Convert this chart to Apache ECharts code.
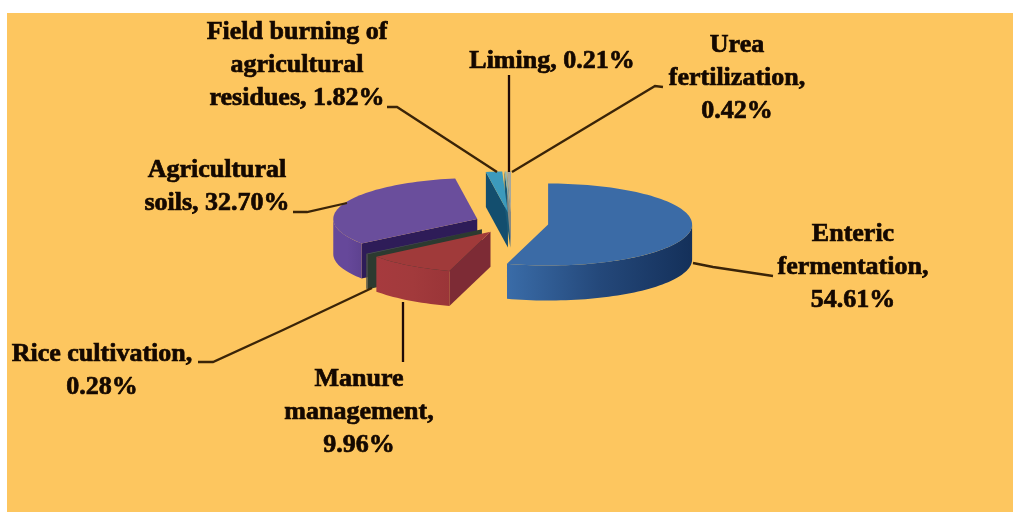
<!DOCTYPE html>
<html><head><meta charset="utf-8">
<style>html,body{margin:0;padding:0;background:#fff}#chart{width:1013px;height:512px;filter:blur(0.7px)}</style>
<script src="https://cdn.jsdelivr.net/npm/echarts@6/dist/echarts.min.js"></script>
</head><body><div id="chart"></div>
<script>
const categories = ['Enteric fermentation','Manure management','Rice cultivation','Agricultural soils','Field burning of agricultural residues','Liming','Urea fertilization'];
const values = [54.61, 9.96, 0.28, 32.70, 1.82, 0.21, 0.42];
const labelTemplates = [
  'Enteric\nfermentation,\n{v}%',
  'Manure\nmanagement,\n{v}%',
  'Rice cultivation,\n{v}%',
  'Agricultural\nsoils, {v}%',
  'Field burning of\nagricultural\nresidues, {v}%',
  'Liming, {v}%',
  'Urea\nfertilization,\n{v}%'
];
const topColors = ['#3B6BA6','#A03A3A','#4A5A48','#6A4E9C','#3C9ABC','#8FB4B0','#A8A89C'];
const frontColors = [['#3A6CA8','#24487A','#14305A'],['#A63A3E','#A23A3C','#9A3538'],['#4A4F48','#4A4F48','#4A4F48'],['#66489A','#66489A','#5E4290'],['#14506E','#14506E','#14506E'],['#8A8A80','#8A8A80','#8A8A80'],['#9A9A8E','#9A9A8E','#9A9A8E']];
const cutColors = ['#1E3F6A','#7D2B35','#2C3A30','#2E1C58','#134E6E','#1A5A78','#8A8A80'];
const labelCentres = [[853,267],[359,412],[102,371],[217,187],[297,65],[552,61],[737,78]];
const leaderPaths = [
  [[693,263],[713,267],[773,276]],
  [[403,302],[403,362]],
  [[198,362],[213,362],[283,330],[372,288]],
  [[293,212],[307,212],[347,203]],
  [[387,107],[397,107],[497,172]],
  [[509,75],[509,172]],
  [[663,87],[655,86],[512,172]]
];
const pie = {cx:511.5, cy:223, a:144, b:41, depth:35, explode:37};
const total = values.reduce((s,v)=>s+v,0);
const toAngle = v => echarts.number.linearMap(v,[0,total],[0,360]);
let run = 0;
const spans = values.map(v=>{const s=[toAngle(run),toAngle(run+v)];run+=v;return s;});
const rad = d => d*Math.PI/180;

function arcPts(apex,from,to){
  const n=Math.max(2,Math.ceil(Math.abs(to-from)/2)), pts=[];
  for(let k=0;k<=n;k++){const t=rad(from+(to-from)*k/n);pts.push([apex[0]+pie.a*Math.sin(t),apex[1]-pie.b*Math.cos(t)]);}
  return pts;
}
function renderItem(params,api){
  const i=api.value(0), [s,e]=spans[i], mid=rad((s+e)/2);
  const apex=[pie.cx+pie.explode*Math.sin(mid), pie.cy-pie.explode*(pie.b/pie.a)*Math.cos(mid)];
  const base=Math.round(apex[1]*10), kids=[], down=p=>[p[0],p[1]+pie.depth];
  const outer=arcPts(apex,s,e);
  // radial cut face, only when it looks toward the viewer
  if(Math.sin(rad(s))<0){
    const p=outer[0];
    kids.push({type:'polygon',z2:base,shape:{points:[apex,p,down(p),down(apex)]},style:{fill:cutColors[i]}});
  }
  // curved outer wall on the front half
  const f=Math.max(s,90), t=Math.min(e,270);
  if(t>f){
    const w=arcPts(apex,f,t);
    const pts=w.concat(w.slice().reverse().map(down));
    const xs=w.map(p=>p[0]);
    const c=frontColors[i];
    const fill=new echarts.graphic.LinearGradient(Math.min(...xs),0,Math.max(...xs),0,
      [{offset:0,color:c[0]},{offset:0.5,color:c[1]},{offset:1,color:c[2]}],true);
    kids.push({type:'polygon',z2:base+1,shape:{points:pts},style:{fill}});
  }
  // top face
  kids.push({type:'polygon',z2:base+2,shape:{points:[apex].concat(outer)},style:{fill:topColors[i]}});
  // leader line
  kids.push({type:'polyline',z2:100000,shape:{points:leaderPaths[i]},style:{stroke:(i===1||i===5)?'#1e0a08':'#3a2408',lineWidth:2.3,fill:null}});
  // label
  const lc=labelCentres[i];
  kids.push({type:'text',z2:100001,style:{x:lc[0],y:lc[1],text:labelTemplates[i].replace('{v}',values[i].toFixed(2)),
    textAlign:'center',textVerticalAlign:'middle',font:'bold 26px "Liberation Serif"',lineHeight:33,fill:'#140800',stroke:'#140800',lineWidth:0.7}});
  return {type:'group',children:kids};
}
const chart=echarts.init(document.getElementById('chart'),null,{renderer:'canvas'});
chart.setOption({
  animation:false,
  backgroundColor:'#ffffff',
  graphic:[{type:'rect',z:-1,shape:{x:7,y:13,width:1006,height:499},style:{fill:'#FDC65F'}}],
  series:[{type:'custom',coordinateSystem:'none',renderItem,silent:true,
    encode:{itemName:1,value:2},
    data:categories.map((c,i)=>[i,c,values[i]])}]
});
</script></body></html>
